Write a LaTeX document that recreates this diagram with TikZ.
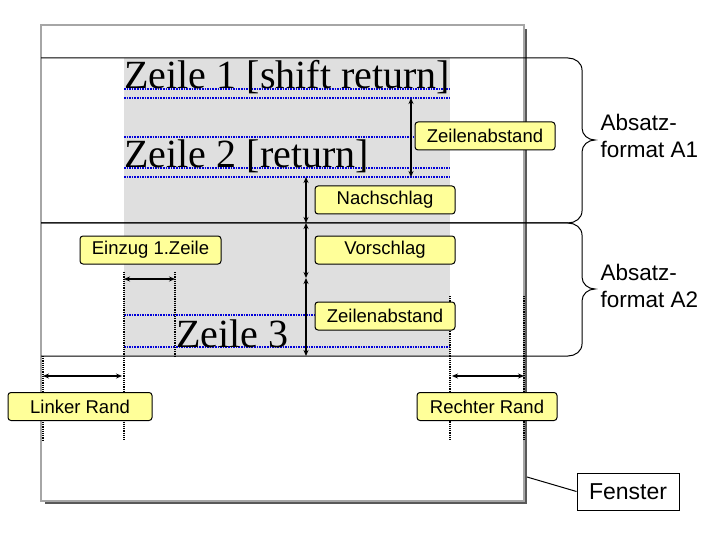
\documentclass[tikz,border=0pt]{standalone}
\usepackage{fontspec}
\setmainfont{Liberation Sans}
\newfontfamily\serifz{Liberation Serif}
\usetikzlibrary{arrows.meta}
\definecolor{lblyellow}{HTML}{FFFF99}
\begin{document}
\begin{tikzpicture}[x=1pt,y=-1pt,line width=1pt,
  lbl/.style={draw=black,fill=lblyellow,rounded corners=3pt,inner sep=0pt,minimum height=28pt,font=\fontsize{18.5}{18.5}\selectfont},
  blue dot/.style={blue!85!black,densely dotted,line width=1.6pt},
  vdot/.style={black,densely dotted,line width=1.2pt},
  dim/.style={{Stealth[length=6pt,width=5pt]}-{Stealth[length=6pt,width=5pt]},line width=1.6pt},
  big/.style={font=\serifz\fontsize{40}{40}\selectfont,inner sep=0pt,anchor=base west},
  side/.style={font=\fontsize{22.5}{27}\selectfont,align=left,anchor=north west,inner sep=0pt}]
\useasboundingbox (0,0) rectangle (720,540);
% window
\fill[gray!70!black] (45,29) rectangle (527,504);
\filldraw[fill=white,draw=gray!70,line width=2pt] (41,25) rectangle (524,501);
\fill[gray!25] (124,58) rectangle (450,356);
% lines and braces
\draw (41,58) -- (568,58) to[out=0,in=90] (582,70) -- (582,128) to[out=-90,in=180] (595,140) to[out=180,in=90] (582,152) -- (582,211) to[out=-90,in=0] (568,223) -- (41,223);
\draw (41,223) -- (568,223) to[out=0,in=90] (582,235) -- (582,277) to[out=-90,in=180] (595,289) to[out=180,in=90] (582,301) -- (582,344) to[out=-90,in=0] (568,356) -- (41,356);
% blue lines
\foreach \y in {89,98,137,168,177,315,347} \draw[blue dot] (124,\y) -- (450,\y);
% texts
\node[big] (z1) at (124,89) {Zeile 1 [shift return]};
\node[big] (z2) at (124,168) {Zeile 2 [return]};
\node[big] (z3) at (176,347) {Zeile 3};
% dotted verticals
\draw[vdot] (124,272) -- (124,440);
\draw[vdot] (175,272) -- (175,356);
\draw[vdot] (43,356) -- (43,440);
\draw[vdot] (450,296) -- (450,440);
\draw[vdot] (524,296) -- (524,440);
% coordinates
\coordinate (a1) at (411,98); \coordinate (a2) at (411,177);
\coordinate (b1) at (306,177); \coordinate (b2) at (306,223);
\coordinate (b3) at (306,278); \coordinate (b4) at (306,356);
\coordinate (e1) at (124,279); \coordinate (e2) at (175,279);
\coordinate (l1) at (43,376); \coordinate (l2) at (122,376);
\coordinate (r1) at (452,376); \coordinate (r2) at (524,376);
\draw[dim] (a1) -- (a2);
\draw[dim] (b1) -- (b2);
\draw[dim] (b2) -- (b3);
\draw[dim] (b3) -- (b4);
\draw[dim] (e1) -- (e2);
\draw[dim] (l1) -- (l2);
\draw[dim] (r1) -- (r2);
% labels
\node[lbl,minimum width=140pt] (za1) at (485,136) {Zeilenabstand};
\node[lbl,minimum width=140pt] (na) at (385,200) {Nachschlag};
\node[lbl,minimum width=140pt] (vo) at (385,250) {Vorschlag};
\node[lbl,minimum width=140pt] (za2) at (385,316) {Zeilenabstand};
\node[lbl,minimum width=141pt] (ei) at (150.5,250) {Einzug 1.Zeile};
\node[lbl,minimum width=144pt] (li) at (80,406.5) {Linker Rand};
\node[lbl,minimum width=140pt] (re) at (487,406.5) {Rechter Rand};
% side labels
\node[side] (a1t) at (600,114) {Absatz-\\format A1};
\node[side] (a2t) at (600,264) {Absatz-\\format A2};
\node[draw,fill=white,minimum width=102pt,minimum height=37pt,inner sep=0pt,font=\fontsize{23}{23}\selectfont] (fe) at (628,491.5) {Fenster};
\coordinate (wp) at (527,477);
\draw (wp) -- (fe.west);
\end{tikzpicture}
\end{document}
